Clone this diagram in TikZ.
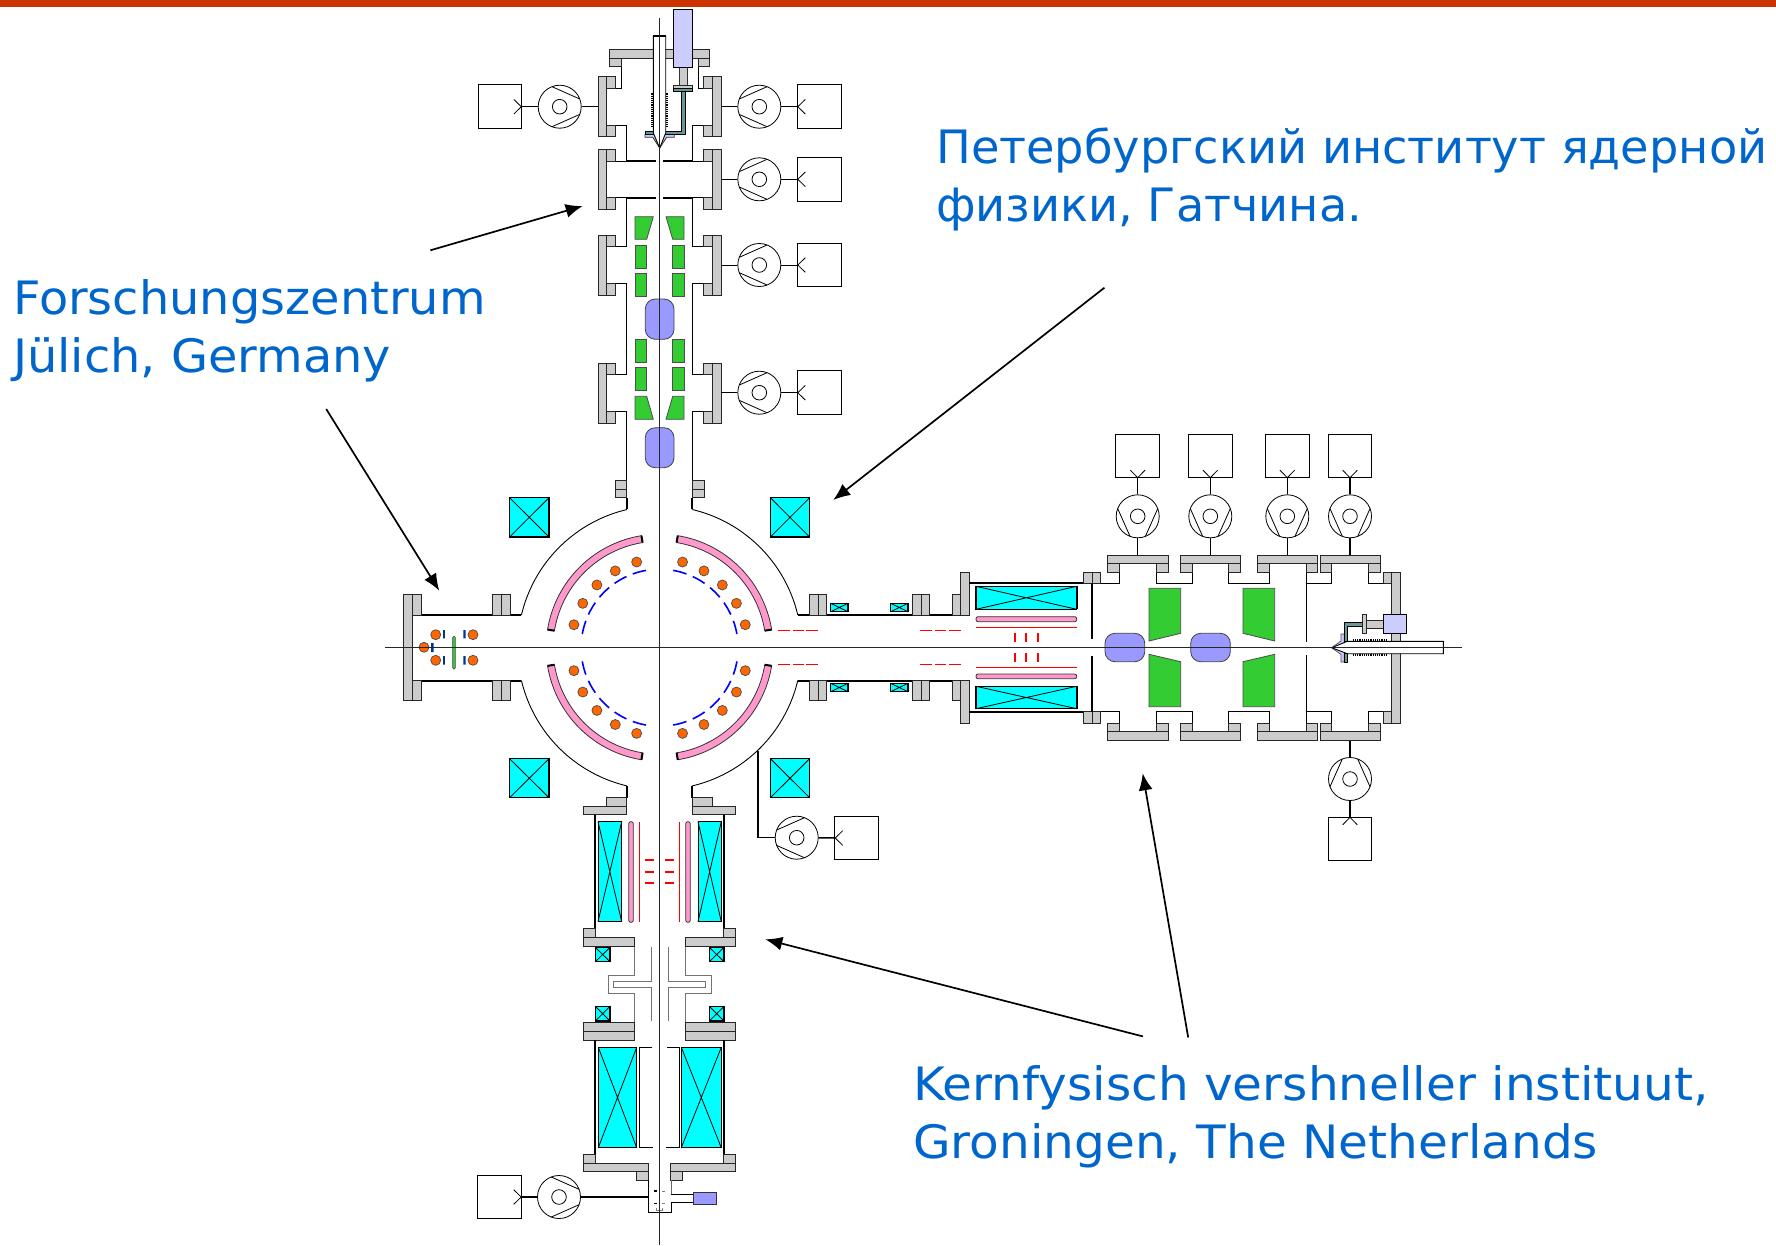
\documentclass[tikz,border=0pt]{standalone}
\usepackage{fontspec}
\setmainfont{DejaVu Sans}
\newfontfamily\labelA[FakeStretch=1.04]{DejaVu Sans}
\newfontfamily\labelB[FakeStretch=1.006]{DejaVu Sans}
\newfontfamily\labelC[FakeStretch=1.055]{DejaVu Sans}
\usetikzlibrary{arrows.meta}
\definecolor{topbar}{HTML}{CC3300}
\definecolor{labelblue}{HTML}{0066CC}
\definecolor{flangegray}{HTML}{CCCCCC}
\definecolor{coilcyan}{HTML}{00FFFF}
\definecolor{magnetgreen}{HTML}{33CC33}
\definecolor{lensblue}{HTML}{9999FF}
\definecolor{lavender}{HTML}{CCCCFF}
\definecolor{tealpart}{HTML}{669999}
\definecolor{pinkpart}{HTML}{FF99CC}
\definecolor{orangepart}{HTML}{FF6600}
\definecolor{darkblue}{HTML}{003399}
\tikzset{
  thinwall/.style={draw=black,line width=0.9pt},
  thickwall/.style={draw=black,line width=2pt},
  flange/.style={draw=black!85,line width=1pt,fill=flangegray},
  greenpart/.style={draw=black!70,line width=0.8pt,fill=magnetgreen},
  lens/.style={draw=black!75,line width=0.8pt,fill=lensblue,rounded corners=10pt},
  orangedot/.style={draw=black!70,line width=0.7pt,fill=orangepart},
  pinkbar/.style={draw=black!80,line width=0.8pt,fill=pinkpart,rounded corners=2pt},
  redline/.style={draw=red,line width=0.9pt},
  redtick/.style={draw=red,line width=1.6pt},
  grayline/.style={draw=black!55,line width=1pt},
  pumpc/.style={circle,draw=black,line width=0.8pt,minimum size=43pt,inner sep=0pt},
  vbox/.style={rectangle,draw=black,line width=1pt,minimum size=43.5pt,inner sep=0pt},
  callout/.style={-{Latex[length=17pt,width=14pt]},line width=1.7pt,black},
  labeltext/.style={text=labelblue,align=left,anchor=north west,inner sep=0pt},
}
% name, pump x, y, rotation, box x, y, line width, flange x, y
\newcommand\vacunit[9]{%
  \node[vbox] (#1b) at (#5,#6) {};
  \node[pumpc] (#1p) at (#2,#3) {};
  \coordinate (#1f) at (#8,#9);
  \begin{scope}[shift={(#2,#3)},rotate=#4]
    \draw[line width=0.8pt] (0,0) circle[radius=7.3pt];
    \draw[line width=0.8pt] (-20,-7.7) -- (7.7,-20) (-20,7.7) -- (7.7,20);
  \end{scope}
  \begin{scope}[shift={(#5,#6)},rotate=#4]
    \draw[line width=0.8pt] (-14,-7.3) -- (-21.5,0) -- (-14,7.3);
  \end{scope}
  \draw[line width=#7pt] (#1b) -- (#1p);
  \draw[line width=#7pt] (#1p) -- (#1f);
}
\newcommand\xbox[4]{%
  \fill[coilcyan] (#1,#2) rectangle (#3,#4);
  \draw[line width=0.8pt] (#1,#2) -- (#3,#4) (#1,#4) -- (#3,#2);
  \draw[line width=1.2pt] (#1,#2) rectangle (#3,#4);
}
\newcommand\gr[4]{\draw[flange] (#1,#2) rectangle (#3,#4);}
\newcommand\quadrantpart{%
  \draw[thinwall] plot[domain=13.3:76.7,samples=40] ({142*cos(\x)},{142*sin(\x)});
  \draw[thickwall] (32.7,138.3) -- (32.7,150);
  \draw[draw=black!80,line width=0.8pt,fill=pinkpart]
     plot[domain=9.2:80.8,samples=40] ({113.5*cos(\x)},{113.5*sin(\x)})
     -- plot[domain=80.8:9.2,samples=40] ({106.5*cos(\x)},{106.5*sin(\x)}) -- cycle;
  \draw[line width=2pt] ({106.5*cos(9.2)},{106.5*sin(9.2)}) -- ({113.5*cos(9.2)},{113.5*sin(9.2)});
  \draw[line width=2pt] ({106.5*cos(80.8)},{106.5*sin(80.8)}) -- ({113.5*cos(80.8)},{113.5*sin(80.8)});
  \foreach \a in {15,30,45,60,75}
    \draw[orangedot] ({88.7*cos(\a)},{88.7*sin(\a)}) circle[radius=5pt];
  \foreach \a/\b in {10/20,25/35,40/50,55/65,70/80}
    \draw[draw=blue,line width=1.6pt] plot[domain=\a:\b,samples=8] ({78.5*cos(\x)},{78.5*sin(\x)});
}
\begin{document}
\begin{tikzpicture}[x=1pt,y=-1pt]
\useasboundingbox (0,0) rectangle (1776,1245);
\fill[white] (0,0) rectangle (1776,1245);
\fill[topbar] (0,0) rectangle (1776,7);

% ---------- central quadrants
\begin{scope}[shift={(659.6,647.7)}]\quadrantpart\end{scope}
\begin{scope}[shift={(659.6,647.7)},xscale=-1]\quadrantpart\end{scope}
\begin{scope}[shift={(659.6,647.7)},yscale=-1]\quadrantpart\end{scope}
\begin{scope}[shift={(659.6,647.7)},xscale=-1,yscale=-1]\quadrantpart\end{scope}
\xbox{509.6}{497.7}{549}{537}
\xbox{770.4}{497.7}{809.6}{537}
\xbox{509.6}{758.7}{549}{797.7}
\xbox{770.4}{758.7}{809.6}{797.7}

% ---------- top column
\draw[thinwall] (621.3,66.7) -- (621.3,88.3) -- (615.3,88.3);
\draw[thinwall] (698,66.7) -- (698,88.3) -- (703.7,88.3);
\draw[thinwall] (615.3,125) -- (626.7,125) -- (626.7,161) -- (615.3,161);
\draw[thinwall] (703.7,125) -- (692.3,125) -- (692.3,161) -- (703.7,161);
\draw[thinwall] (615.3,197.7) -- (626.7,197.7) -- (626.7,246.7) -- (615.3,246.7);
\draw[thinwall] (703.7,197.7) -- (692.3,197.7) -- (692.3,246.7) -- (703.7,246.7);
\draw[thinwall] (615.3,283.3) -- (626.7,283.3) -- (626.7,374.7) -- (615.3,374.7);
\draw[thinwall] (703.7,283.3) -- (692.3,283.3) -- (692.3,374.7) -- (703.7,374.7);
\draw[thinwall] (615.3,411.3) -- (626.7,411.3) -- (626.7,480);
\draw[thinwall] (703.7,411.3) -- (692.3,411.3) -- (692.3,480);
\draw[thickwall] (626.7,161) -- (655.7,161) (663.3,161) -- (692.3,161);
\draw[thickwall] (626.7,197.7) -- (655.7,197.7) (663.3,197.7) -- (692.3,197.7);
\foreach \ya/\yb/\yc/\yd in {76.7/88.3/125/136.3,149.3/161/197.7/209.3,235/246.7/283.3/295,363/374.7/411.3/423}{
  \gr{598}{\ya}{606.7}{\yd}
  \gr{606.7}{\ya}{615.3}{\yb}
  \gr{606.7}{\yc}{615.3}{\yd}
  \gr{712.3}{\ya}{721}{\yd}
  \gr{703.7}{\ya}{712.3}{\yb}
  \gr{703.7}{\yc}{712.3}{\yd}
}
\gr{609.7}{49.3}{709.7}{58.3}
\gr{609.7}{58.3}{621.3}{66.7}
\gr{698}{58.3}{709.7}{66.7}
\gr{615.4}{480}{626.8}{489}
\gr{615.4}{489}{626.8}{497.7}
\gr{692.5}{480}{704}{489}
\gr{692.5}{489}{704}{497.7}
% green magnets
\draw[greenpart] (635,216.7) -- (653.3,216.7) -- (646.7,239.3) -- (635,239.3) -- cycle;
\draw[greenpart] (666,216.7) -- (684,216.7) -- (684,239.3) -- (672.7,239.3) -- cycle;
\foreach \ya/\yb in {245/268,273.3/296.3,339.3/362.3,367.7/390.7}{
  \draw[greenpart] (635,\ya) rectangle (646.7,\yb);
  \draw[greenpart] (672.7,\ya) rectangle (684,\yb);
}
\draw[greenpart] (635,396.3) -- (646.7,396.3) -- (653.3,419.3) -- (635,419.3) -- cycle;
\draw[greenpart] (672.7,396.3) -- (684,396.3) -- (684,419.3) -- (666,419.3) -- cycle;
\draw[lens] (645.3,299) rectangle (674,339.3);
\draw[lens] (645.3,427.7) rectangle (674,467.7);
% top gun
\draw[draw=black!80,line width=0.8pt,fill=lavender] (645,134) -- (674.3,134) -- (674.3,137.3) -- (666.6,137.3) -- (659.7,148) -- (652.7,137.3) -- (645,137.3) -- cycle;
\draw[draw=black!80,line width=0.8pt,fill=flangegray] (679,67.3) rectangle (687.7,85);
\draw[flange] (673.7,85) rectangle (692.3,88.7);
\draw[draw=black,line width=0.8pt,fill=tealpart] (673.7,88.7) rectangle (692.3,91.7);
\draw[draw=black,line width=0.8pt,fill=tealpart] (681.7,91.7) -- (685,91.7) -- (685,134) -- (645,134) -- (645,131) -- (681.7,131) -- cycle;
\draw[draw=black,line width=1.1pt,fill=lavender] (673.7,9.3) rectangle (692.3,67.3);
\draw[draw=black,line width=0.9pt,fill=white] (653.3,36) -- (665.7,36) -- (665.7,133) -- (659.7,148) -- (653.3,133) -- cycle;
\draw[line width=2pt] (653.3,36) -- (665.7,36);
\draw[line width=2pt,dash pattern=on 1.2pt off 1pt] (652.2,93.3) -- (652.2,127.3);
\draw[line width=2pt,dash pattern=on 1.2pt off 1pt] (666.8,93.3) -- (666.8,127.3);

% ---------- left arm
\draw[thickwall] (421.4,615) -- (521.4,615);
\draw[thickwall] (421.4,680.7) -- (521.4,680.7);
\gr{403.6}{594.3}{412.5}{700.7}
\foreach \xa/\xb in {412.5/421.4,492.9/501.4,501.4/510}{
  \gr{\xa}{594.3}{\xb}{615}
  \gr{\xa}{680.7}{\xb}{700.7}
}
\foreach \cx/\cy in {435.7/634.7,473/634.7,435.7/660.3,473/660.3,424/647.3}
  \draw[orangedot] (\cx,\cy) circle[radius=5pt];
\fill[darkblue] (443,630) rectangle (444.9,638.3) (463.3,630) rectangle (465.7,638.3)
  (443,656) rectangle (444.9,664.7) (463.3,656) rectangle (465.7,664.7) (431,643) rectangle (433.7,652);
\draw[draw=black!70,line width=0.6pt,fill=magnetgreen,rounded corners=1pt] (452.7,636.3) rectangle (455.3,669);

% ---------- right arm
\draw[thickwall] (798.2,615) -- (952,615);
\draw[thickwall] (798.2,680.7) -- (952,680.7);
\foreach \xa/\xb in {809.6/818.2,818.2/826.8,912.1/921,921/929.6}{
  \gr{\xa}{594.3}{\xb}{615}
  \gr{\xa}{680.7}{\xb}{700.7}
}
\xbox{830.7}{603.3}{847.9}{611.7}
\xbox{890.7}{603.3}{907.9}{611.7}
\xbox{830.7}{683.3}{847.9}{691.7}
\xbox{890.7}{683.3}{907.9}{691.7}
\foreach \xa/\xb in {777.9/789.6,792.5/803.6,806.4/817.9,920/931.8,935/946.4,949/961}{
  \draw[redline] (\xa,630.3) -- (\xb,630.3);
  \draw[redline] (\xa,664.3) -- (\xb,664.3);
}
\gr{952}{594.3}{960.7}{615}
\gr{960.7}{572}{969.3}{615}
\gr{952}{680.7}{960.7}{700.7}
\gr{960.7}{680.7}{969.3}{723.3}
\draw[thickwall] (969.3,583.3) -- (1083.3,583.3);
\draw[thickwall] (969.3,711.7) -- (1083.3,711.7);
\xbox{976}{586.3}{1076.7}{609.3}
\xbox{976}{686.3}{1076.7}{708.7}
\draw[line width=2pt] (976,586.3) -- (976,609.3) (1076.7,586.3) -- (1076.7,609.3) (976,686.3) -- (976,708.7) (1076.7,686.3) -- (1076.7,708.7);
\draw[pinkbar] (976,616.7) rectangle (1076.7,621.7);
\draw[pinkbar] (976,674) rectangle (1076.7,678.7);
\draw[redline] (976,627.3) -- (1076.7,627.3);
\draw[redline] (976,667.3) -- (1076.7,667.3);
\foreach \xx in {1015,1026,1038}{
  \draw[redtick] (\xx,633.3) -- (\xx,641.7);
  \draw[redtick] (\xx,653.3) -- (\xx,661.7);
}
\draw[flange] (1083.3,572) rectangle (1092,583.3);
\draw[flange] (1092,572) rectangle (1100.7,583.3);
\draw[flange] (1083.3,711.7) rectangle (1092,723.3);
\draw[flange] (1092,711.7) rectangle (1100.7,723.3);
\draw[thickwall] (1092,583.3) -- (1092,639);
\draw[thickwall] (1092,656) -- (1092,711.7);

% right chamber walls
\draw[thinwall] (1100.7,583.3) -- (1119.3,583.3) -- (1119.3,572.3);
\draw[thinwall] (1156.3,572.3) -- (1156.3,583.3) -- (1192.3,583.3) -- (1192.3,572.3);
\draw[thinwall] (1228.7,572.3) -- (1228.7,583.3) -- (1269.3,583.3) -- (1269.3,572.3);
\draw[thinwall] (1306.3,572.3) -- (1306.3,641.7);
\draw[thinwall] (1306.3,583.3) -- (1331.7,583.3) -- (1331.7,572.3);
\draw[thinwall] (1368.7,572.3) -- (1368.7,583.3) -- (1383.3,583.3);
\draw[thinwall] (1100.7,711.7) -- (1119.3,711.7) -- (1119.3,723.3);
\draw[thinwall] (1156.3,723.3) -- (1156.3,711.7) -- (1192.3,711.7) -- (1192.3,723.3);
\draw[thinwall] (1228.7,723.3) -- (1228.7,711.7) -- (1269.3,711.7) -- (1269.3,723.3);
\draw[thinwall] (1306.3,655) -- (1306.3,723.3);
\draw[thinwall] (1306.3,711.7) -- (1331.7,711.7) -- (1331.7,723.3);
\draw[thinwall] (1368.7,723.3) -- (1368.7,711.7) -- (1383.3,711.7);
\foreach \xa/\xb/\xc/\xd in {1107.7/1119.3/1156.3/1168,1180.3/1192.3/1228.7/1240.7,1257.3/1269.3/1306/1317.7,1320.3/1331.7/1368.7/1380.7}{
  \gr{\xa}{555}{\xd}{563.7}
  \gr{\xa}{563.7}{\xb}{572.3}
  \gr{\xc}{563.7}{\xd}{572.3}
  \gr{\xa}{731.7}{\xd}{740.7}
  \gr{\xa}{723.3}{\xb}{731.7}
  \gr{\xc}{723.3}{\xd}{731.7}
}
\gr{1383.3}{572}{1391.7}{583.3}
\gr{1383.3}{711.7}{1391.7}{723.3}
\gr{1391.7}{572}{1400.3}{723.3}
% right green and lenses
\draw[greenpart] (1149,588.3) -- (1180.7,588.3) -- (1180.7,633.3) -- (1149,641) -- cycle;
\draw[greenpart] (1149,654.3) -- (1180.7,661.7) -- (1180.7,706.7) -- (1149,706.7) -- cycle;
\draw[greenpart] (1243,588.3) -- (1274.7,588.3) -- (1274.7,641) -- (1243,633.3) -- cycle;
\draw[greenpart] (1243,661.7) -- (1274.7,654.3) -- (1274.7,706.7) -- (1243,706.7) -- cycle;
\draw[lens] (1105,633.3) rectangle (1144.7,661.7);
\draw[lens] (1190.7,633.3) rectangle (1230.3,661.7);
% right gun
\draw[draw=black!70,line width=0.7pt,fill=lavender] (1331.7,647.7) -- (1341,641) -- (1341,634) -- (1344.3,634) -- (1344.3,662) -- (1341,662) -- (1341,654.5) -- cycle;
\draw[draw=black,line width=0.7pt,fill=tealpart] (1362.3,622) -- (1344.3,622) -- (1344.3,641.7) -- (1347.7,641.7) -- (1347.7,626.7) -- (1362.3,626.7) -- cycle;
\draw[draw=black,line width=0.7pt,fill=tealpart] (1344.3,653.7) rectangle (1347.7,662.3);
\draw[flange] (1366,620) rectangle (1383,628.3);
\draw[flange] (1362.3,614.3) rectangle (1366,633.7);
\draw[draw=black,line width=1pt,fill=lavender] (1383,614.3) rectangle (1406.7,633.7);
\draw[draw=black,line width=0.9pt,fill=white] (1331.7,647.7) -- (1347.3,641.3) -- (1443.3,641.3) -- (1443.3,653.7) -- (1347.3,653.7) -- cycle;
\draw[line width=2pt,dash pattern=on 1.2pt off 1pt] (1352.7,640) -- (1386,640);
\draw[line width=2pt,dash pattern=on 1.2pt off 1pt] (1352.7,655) -- (1386,655);

% ---------- bottom column
\gr{606.7}{797.3}{626.7}{806}
\gr{583.7}{806}{626.7}{814.7}
\gr{692.3}{797.3}{712.3}{806}
\gr{692.3}{806}{735.3}{814.7}
\draw[thickwall] (595.3,814.7) -- (595.3,928.7);
\draw[thickwall] (724,814.7) -- (724,928.7);
\draw[draw=black,line width=1pt,fill=coilcyan] (598,821.7) rectangle (621.7,921.7);
\draw[line width=0.8pt] (598,821.7) -- (621.7,921.7) (598,921.7) -- (621.7,821.7);
\draw[draw=black,line width=1pt,fill=coilcyan] (698,821.7) rectangle (721.3,921.7);
\draw[line width=0.8pt] (698,821.7) -- (721.3,921.7) (698,921.7) -- (721.3,821.7);
\draw[pinkbar] (628.7,821.7) rectangle (633.3,922.3);
\draw[pinkbar] (685.7,821.7) rectangle (690.3,922.3);
\draw[redline] (639.3,822.3) -- (639.3,921.7);
\draw[redline] (679.3,822.3) -- (679.3,921.7);
\foreach \yy in {860,871.7,883}{
  \draw[redtick] (645,\yy) -- (654,\yy);
  \draw[redtick] (665,\yy) -- (674,\yy);
}
\gr{583.7}{928.7}{595.3}{937.3}
\gr{583.7}{937.3}{634}{946}
\gr{723.7}{928.7}{735.3}{937.3}
\gr{685.3}{937.3}{735.3}{946}
\xbox{595.3}{947.3}{610}{961.7}
\xbox{709.3}{947.3}{724}{961.7}
\xbox{595.3}{1006.3}{610}{1021}
\xbox{709.3}{1006.3}{724}{1021}
\draw[grayline] (634,946.7) -- (634,975.7) -- (608,975.7) -- (608,993.3) -- (634,993.3) -- (634,1022.7);
\draw[grayline] (651,947.3) -- (651,981.7) -- (613.7,981.7) -- (613.7,987.3) -- (651,987.3) -- (651,1021.3);
\draw[grayline] (685.3,946.7) -- (685.3,975.7) -- (711,975.7) -- (711,993.3) -- (685.3,993.3) -- (685.3,1022.7);
\draw[grayline] (668,947.3) -- (668,981.7) -- (705.7,981.7) -- (705.7,987.3) -- (668,987.3) -- (668,1021.3);
\gr{583.7}{1022.7}{634}{1031.3}
\gr{583.7}{1031.3}{634}{1040.3}
\gr{685.3}{1022.7}{735.3}{1031.3}
\gr{685.3}{1031.3}{735.3}{1040.3}
\draw[thickwall] (595.3,1040.3) -- (595.3,1154.3);
\draw[thickwall] (724,1040.3) -- (724,1154.3);
\draw[draw=black,line width=0.9pt,fill=coilcyan] (598.3,1047.3) rectangle (636.7,1147.7);
\draw[line width=0.8pt] (598.3,1047.3) -- (636.7,1147.7) (598.3,1147.7) -- (636.7,1047.3);
\draw[draw=black,line width=0.9pt,fill=coilcyan] (681.3,1047.3) rectangle (721.3,1147.7);
\draw[line width=0.8pt] (681.3,1047.3) -- (721.3,1147.7) (681.3,1147.7) -- (721.3,1047.3);
\draw[line width=0.8pt] (652,1047.3) -- (639.7,1047.3) -- (639.7,1147.7) -- (653,1147.7);
\draw[line width=0.8pt] (667,1047.3) -- (679.7,1047.3) -- (679.7,1147.7) -- (666.3,1147.7);
\gr{583.7}{1154.3}{595.3}{1163}
\gr{583.7}{1163}{648.7}{1171.7}
\gr{723.7}{1154.3}{735.3}{1163}
\gr{670.7}{1163}{735.3}{1171.7}
\gr{636.7}{1171.7}{648.7}{1180.3}
\gr{670.7}{1171.7}{682.7}{1180.3}
\draw[thinwall] (648.7,1180.3) -- (648.7,1212.3) -- (671.3,1212.3) -- (671.3,1202) -- (693.3,1202);
\draw[draw=black!60,line width=0.9pt] (671.3,1180.3) -- (671.3,1194.7);
\draw[thinwall] (671.3,1194.7) -- (693.3,1194.7);
\draw[draw=black!80,line width=1pt,fill=lensblue] (693.3,1192.3) rectangle (716,1204.3);
\draw[line width=1.5pt] (654,1191) -- (656.7,1191);
\draw[draw=black!50,line width=1pt] (662,1191) -- (665.3,1191);
\draw[line width=0.8pt] (654,1203.3) -- (656.7,1203.3);
\draw[draw=black!50,line width=0.8pt] (662,1203.3) -- (665.3,1203.3);
\draw[draw=black!50,line width=0.7pt] (656,1208.3) -- (656,1210.7) -- (662.7,1210.7) -- (662.7,1208.3);

% ---------- pump units
\vacunit{ta}{559.7}{106.7}{180}{499.8}{106.7}{1.5}{598}{106.7}
\vacunit{tb}{759.3}{106.7}{0}{819.3}{106.7}{1.5}{721}{106.7}
\vacunit{tc}{759.3}{179.3}{0}{819.3}{179.3}{0.9}{721}{179.3}
\vacunit{td}{759.3}{265}{0}{819.3}{265}{0.9}{721}{265}
\vacunit{te}{759.3}{392.7}{0}{819.3}{392.7}{1.5}{721}{392.7}
\vacunit{ra}{1137.7}{516.3}{90}{1137.7}{456.2}{1.5}{1137.7}{555}
\vacunit{rb}{1210.3}{516.3}{90}{1210.3}{456.2}{0.9}{1210.3}{555}
\vacunit{rc}{1287.3}{516.3}{90}{1287.3}{456.2}{1.5}{1287.3}{555}
\vacunit{rd}{1350}{516.3}{90}{1350}{456.2}{1.5}{1350}{555}
\vacunit{re}{1350}{779}{-90}{1350}{838.8}{1.5}{1350}{740.7}
\vacunit{ba}{559}{1197}{180}{499.7}{1197}{1.5}{648.7}{1197}
\vacunit{bb}{796.7}{837.7}{0}{856.7}{838}{1.5}{758}{837.7}
\draw[line width=1.5pt] (bbf) -- (758,750.7);

% ---------- axes
\draw[draw=black!85,line width=0.9pt] (659.6,18) -- (659.6,1245);
\draw[draw=black!85,line width=0.9pt] (385,647.7) -- (1462,647.7);

% ---------- labels and callouts
\node[labeltext,font=\labelA\fontsize{46}{58}\selectfont] (julich) at (13,279) {Forschungszentrum\\Jülich, Germany};
\node[labeltext,font=\labelB\fontsize{46}{58}\selectfont] (gatchina) at (936,127.5) {Петербургский институт ядерной\\физики, Гатчина.};
\node[labeltext,font=\labelC\fontsize{46}{58}\selectfont] (kvi) at (913,1065.5) {Kernfysisch vershneller instituut,\\Groningen, The Netherlands};
\coordinate (a1s) at (430.4,250.3);
\coordinate (a1e) at (582.7,206);
\coordinate (a2s) at (326.2,409);
\coordinate (a2e) at (439.3,590.7);
\coordinate (a3s) at (1104.4,287.7);
\coordinate (a3e) at (833.2,500);
\coordinate (a4s) at (1142.9,1036.4);
\coordinate (a4e) at (765.3,939.3);
\coordinate (a5s) at (1188.2,1037.5);
\coordinate (a5e) at (1142.7,773.3);
\draw[callout] (a1s) -- (a1e);
\draw[callout] (a2s) -- (a2e);
\draw[callout] (a3s) -- (a3e);
\draw[callout] (a4s) -- (a4e);
\draw[callout] (a5s) -- (a5e);
\end{tikzpicture}
\end{document}
